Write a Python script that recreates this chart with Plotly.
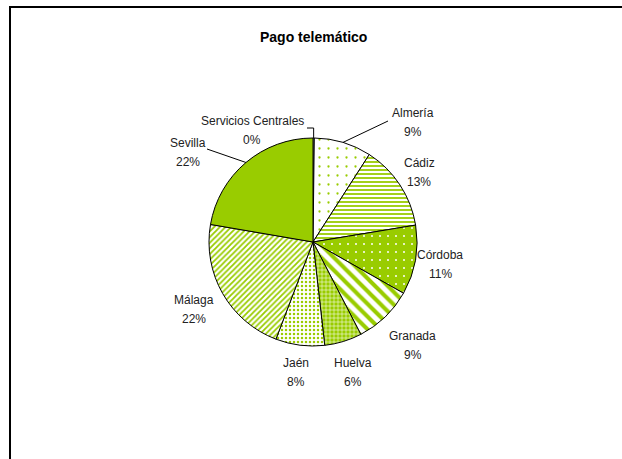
import math
import plotly.graph_objects as go

# ---- data ----
labels = ["Servicios Centrales", "Almería", "Cádiz", "Córdoba", "Granada",
          "Huelva", "Jaén", "Málaga", "Sevilla"]
values = [0.2, 8.9, 13.3, 10.8, 9.2, 5.8, 7.6, 21.9, 22.3]
title_text = "Pago telemático"

# ---- styles ----
GREEN = "#99CC00"
W, H = 622, 459
CX, CY, R = 313, 242, 104          # pie centre / radius in pixels
FONT = "Liberation Sans Narrow, Arial Narrow, Liberation Sans, sans-serif"

bg = ["white", "white", "white", GREEN, "white", GREEN, "white", "white", GREEN]
fg = ["white", GREEN, GREEN, "white", GREEN, "white", GREEN, GREEN, GREEN]
shapes_p = ["", ".", "-", ".", "\\", "+", ".", "/", ""]
psize = [6, 9, 4, 8, 9, 4, 4, 4, 6]
psol = [0.3, 0.05, 0.45, 0.05, 0.45, 0.25, 0.3, 0.45, 0.3]

def px(x):
    return x / W

def py(y):
    return 1 - y / H

fig = go.Figure(go.Pie(
    labels=labels, values=values, sort=False, direction="clockwise", rotation=0,
    textinfo="none", hoverinfo="label+percent", showlegend=False,
    marker=dict(colors=bg, line=dict(color="black", width=1),
                pattern=dict(shape=shapes_p, fgcolor=fg, bgcolor=bg,
                             size=psize, solidity=psol, fillmode="replace")),
    domain=dict(x=[px(CX - R), px(CX + R)], y=[py(CY + R), py(CY - R)]),
))

total = sum(values)
cum = 0
annotations = []
shapes = []
overrides = {
    "Servicios Centrales": (252, 130),
    "Almería": (413, 123),
    "Sevilla": (188, 152),
}
dist = {"Cádiz": 127, "Córdoba": 129, "Granada": 144, "Huelva": 136,
        "Jaén": 132, "Málaga": 137}
LBL_FONT = dict(family=FONT, size=12, color="#222222")
for lab, v in zip(labels, values):
    mid = (cum + v / 2) / total * 2 * math.pi
    cum += v
    pct = round(v / total * 100)
    ex, ey = CX + R * math.sin(mid), CY - R * math.cos(mid)
    if lab in overrides:
        tx, ty = overrides[lab]
        if lab == "Servicios Centrales":
            pts = [(307, 128), (ex, 128), (ex, ey)]
        elif lab == "Almería":
            pts = [(388, 121), (ex, ey)]
        else:
            pts = [(207, 149), (ex, ey)]
        for (x0, y0), (x1, y1) in zip(pts[:-1], pts[1:]):
            shapes.append(dict(type="line", xref="paper", yref="paper",
                               x0=px(x0), y0=py(y0), x1=px(x1), y1=py(y1),
                               line=dict(color="black", width=1)))
    else:
        d = dist.get(lab, 135)
        tx, ty = CX + d * math.sin(mid), CY - d * math.cos(mid)
    for t, dy in ((lab, -9.5), (f"{pct}%", 9.5)):
        annotations.append(dict(text=t, x=px(tx), y=py(ty + dy), xref="paper", yref="paper",
                                showarrow=False, xanchor="center", yanchor="middle",
                                font=LBL_FONT))

annotations.append(dict(text=f"<b>{title_text}</b>", x=px(313), y=py(37),
                        xref="paper", yref="paper", showarrow=False,
                        xanchor="center", yanchor="middle",
                        font=dict(family=FONT, size=14, color="black")))

# outer chart border (right/bottom edges cut off in reference)
shapes.append(dict(type="rect", xref="paper", yref="paper",
                   x0=px(10), x1=px(W + 20), y0=py(H + 20), y1=py(7),
                   line=dict(color="black", width=2), fillcolor="rgba(0,0,0,0)"))

fig.update_layout(width=W, height=H, margin=dict(l=0, r=0, t=0, b=0),
                  paper_bgcolor="white", plot_bgcolor="white",
                  annotations=annotations, shapes=shapes)
fig.write_html("out.html", config={"displayModeBar": False},
               post_script="document.body.style.margin='0';document.body.style.overflow='hidden';")
